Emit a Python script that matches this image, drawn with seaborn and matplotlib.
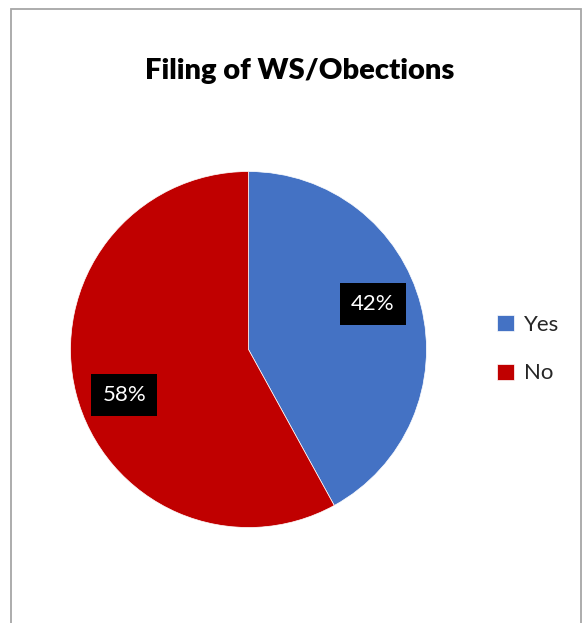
import matplotlib
matplotlib.use("Agg")
import matplotlib.pyplot as plt
import matplotlib.patches as patches
import seaborn as sns

# ------ DATA ------ #

categories = ["Yes", "No"]
shares = [42, 58]
colors = ["#4472C4", "#C00000"]
title = "Filing of WS/Obections"

# ------ STYLE ------ #

sns.set_style("white")
plt.rcParams['font.family'] = ['Lato', 'DejaVu Sans']

W, H = 584, 623
fig = plt.figure(figsize=(W / 100, H / 100), dpi=100)
fig.patch.set_facecolor("white")

# chart frame (bottom edge runs off the image)
frame = patches.Rectangle((11 / W, -0.02), 570 / W, 1.02 - 9 / H,
                          transform=fig.transFigure, fill=False,
                          edgecolor="#A6A6A6", linewidth=1.3)
fig.patches.append(frame)

# pie axes: center (248.5, 349.5) px, radius 178 px
cx, cy, r = 248.5, 349.5, 178
ax = fig.add_axes([(cx - r) / W, (H - cy - r) / H, 2 * r / W, 2 * r / H])

wedges, texts, autotexts = ax.pie(
    shares, colors=colors, startangle=90, counterclock=False,
    autopct=lambda p: f"{p:.0f}%", pctdistance=0.72,
    wedgeprops=dict(linewidth=0.5, edgecolor="white"),
    textprops=dict(color="white", fontsize=16),
)
ax.set_aspect("equal")
ax.set_xlim(-1, 1)
ax.set_ylim(-1, 1)

for t in autotexts:
    x, y = t.get_position()
    t.set_position((x, y * 1.42))
    t.set_bbox(dict(facecolor="black", edgecolor="none", boxstyle="square,pad=0.5"))

fig.text(300 / W, 1 - 71 / H, title, ha="center", va="center",
         fontsize=21, fontweight="heavy", color="black")

fig.legend(wedges, categories, loc="center left",
           bbox_to_anchor=(477 / W, 1 - 349 / H), frameon=False,
           fontsize=16, handlelength=0.75, handleheight=0.75,
           handletextpad=0.45, labelspacing=1.3)

fig.savefig("out.png", dpi=100)
